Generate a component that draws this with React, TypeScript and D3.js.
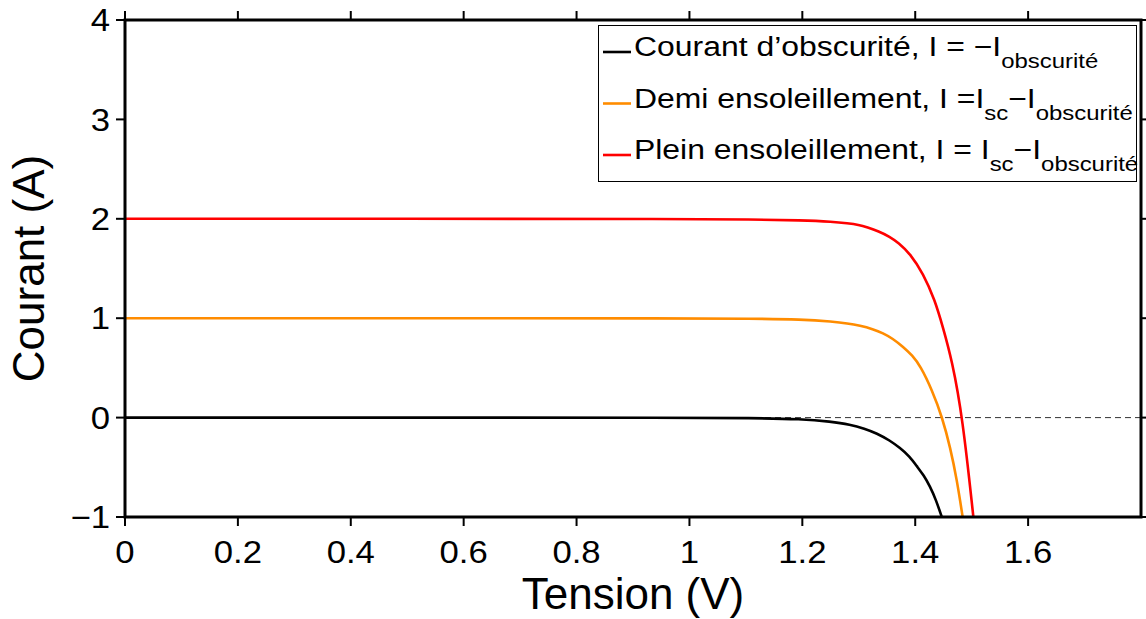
import React from "react";
import * as d3 from "d3";

// Data (V in volts, I in amperes)
const darkV = [0, 0.5, 1.0, 1.107, 1.2, 1.25, 1.285, 1.31, 1.332, 1.355, 1.373, 1.39, 1.403, 1.415, 1.426, 1.437, 1.447];
const darkI = [0, 0, -0.001, -0.004, -0.015, -0.04, -0.07, -0.11, -0.158, -0.23, -0.305, -0.39, -0.49, -0.58, -0.69, -0.83, -1.0];

const halfV = [0, 0.5, 1.0, 1.107, 1.2, 1.254, 1.28, 1.302, 1.325, 1.343, 1.36, 1.378, 1.395, 1.409, 1.43, 1.448, 1.462, 1.474, 1.484];
const halfI = [1, 1, 0.999, 0.996, 0.988, 0.966, 0.948, 0.925, 0.89, 0.85, 0.795, 0.715, 0.625, 0.52, 0.275, 0, -0.3, -0.63, -1.0];

const fullV = [0, 0.5, 1.0, 1.107, 1.2, 1.254, 1.28, 1.3, 1.315, 1.335, 1.355, 1.37, 1.391, 1.414, 1.435, 1.449, 1.465, 1.484, 1.503];
const fullI = [2, 2, 1.999, 1.994, 1.985, 1.97, 1.955, 1.94, 1.915, 1.875, 1.82, 1.76, 1.65, 1.45, 1.18, 0.91, 0.58, 0, -1.0];

const xTicks = [0, 0.2, 0.4, 0.6, 0.8, 1, 1.2, 1.4, 1.6];
const yTicks = [-1, 0, 1, 2, 3, 4];

const FONT = "'Liberation Sans', Arial, Helvetica, sans-serif";
const SX = 1.12; // horizontal glyph stretch seen in the reference's small texts

export default function App() {
  const W = 1146, H = 619;
  const x = d3.scaleLinear().domain([0, 1.8]).range([125, 1141]);
  const y = d3.scaleLinear().domain([-1, 4]).range([517, 20]);
  const line = d3
    .line<[number, number]>()
    .x((d) => x(d[0]))
    .y((d) => y(d[1]))
    .curve(d3.curveBasis);
  const zip = (a: number[], b: number[]) => a.map((v, i) => [v, b[i]] as [number, number]);
  const series = [
    { pts: zip(darkV, darkI), color: "#000000" },
    { pts: zip(halfV, halfI), color: "#FF8C00" },
    { pts: zip(fullV, fullI), color: "#FF0000" },
  ];
  const x0 = x(0), x1 = x(1.8), yTop = y(4), yBot = y(-1);
  const tickLen = 9;
  const fmt = (v: number) => (v < 0 ? "\u2212" + Math.abs(v) : String(v));

  const legendRows = [
    { color: "#000000", parts: [["Courant d\u2019obscurit\u00e9, I = \u2212I", false], ["obscurit\u00e9", true]] },
    { color: "#FF8C00", parts: [["Demi ensoleillement, I =I", false], ["sc", true], ["\u2212I", false], ["obscurit\u00e9", true]] },
    { color: "#FF0000", parts: [["Plein ensoleillement, I = I", false], ["sc", true], ["\u2212I", false], ["obscurit\u00e9", true]] },
  ];
  const lx = 634;

  return (
    <svg width={W} height={H} style={{ position: "absolute", left: 0, top: 0, background: "#fff" }} fontFamily={FONT}>
      <defs>
        <clipPath id="plot">
          <rect x={x0} y={yTop} width={x1 - x0} height={yBot - yTop} />
        </clipPath>
      </defs>
      <rect x={0} y={0} width={W} height={H} fill="#fff" />
      {/* zero dashed line */}
      <line x1={x0} x2={x1} y1={y(0)} y2={y(0)} stroke="#333" strokeWidth={1} strokeDasharray="6,4" />
      <g clipPath="url(#plot)">
        {series.map((s, i) => (
          <path key={i} d={line(s.pts) || ""} fill="none" stroke={s.color} strokeWidth={2.6} />
        ))}
      </g>
      {/* frame */}
      <rect x={x0} y={yTop} width={x1 - x0} height={yBot - yTop} fill="none" stroke="#000" strokeWidth={3} />
      {/* x ticks bottom and top */}
      {xTicks.map((t) => (
        <g key={"x" + t}>
          <line x1={x(t)} x2={x(t)} y1={yBot} y2={yBot + tickLen} stroke="#000" strokeWidth={2} />
          <line x1={x(t)} x2={x(t)} y1={yTop} y2={yTop - tickLen} stroke="#000" strokeWidth={2} />
          <text transform={`translate(${x(t)},563) scale(${SX},1)`} fontSize={31} textAnchor="middle" fill="#000">
            {fmt(t)}
          </text>
        </g>
      ))}
      {yTicks.map((t) => (
        <g key={"y" + t}>
          <line x1={x0} x2={x0 - tickLen} y1={y(t)} y2={y(t)} stroke="#000" strokeWidth={2} />
          <line x1={x1} x2={x1 + tickLen} y1={y(t)} y2={y(t)} stroke="#000" strokeWidth={2} />
          <text transform={`translate(110,${y(t)}) scale(${SX},1)`} dy="0.36em" fontSize={31} textAnchor="end" fill="#000">
            {fmt(t)}
          </text>
        </g>
      ))}
      {/* axis labels */}
      <text x={(x0 + x1) / 2} y={609} fontSize={44} textAnchor="middle" fill="#000">
        Tension (V)
      </text>
      <text
        transform={`translate(44,${(yTop + yBot) / 2}) rotate(-90)`}
        fontSize={44}
        textAnchor="middle"
        fill="#000"
      >
        Courant (A)
      </text>
      {/* legend */}
      <rect x={598.5} y={25.5} width={538} height={156} fill="#fff" stroke="#000" strokeWidth={1} />
      {legendRows.map((r, i) => {
        const base = 56 + i * 51.5;
        return (
          <g key={"l" + i}>
            <line x1={603} x2={631} y1={base - 4} y2={base - 4} stroke={r.color} strokeWidth={2.6} />
            <text transform={`translate(${lx},${base}) scale(1.14,1)`} fontSize={28} fill="#000">
              {r.parts.map((p, j) => {
                const sub = p[1] as boolean;
                const prevSub = j > 0 && (r.parts[j - 1][1] as boolean);
                const dy = sub ? 12 : prevSub ? -12 : 0;
                return (
                  <tspan key={j} dy={dy} fontSize={sub ? 21 : 28}>
                    {p[0] as string}
                  </tspan>
                );
              })}
            </text>
          </g>
        );
      })}
    </svg>
  );
}
